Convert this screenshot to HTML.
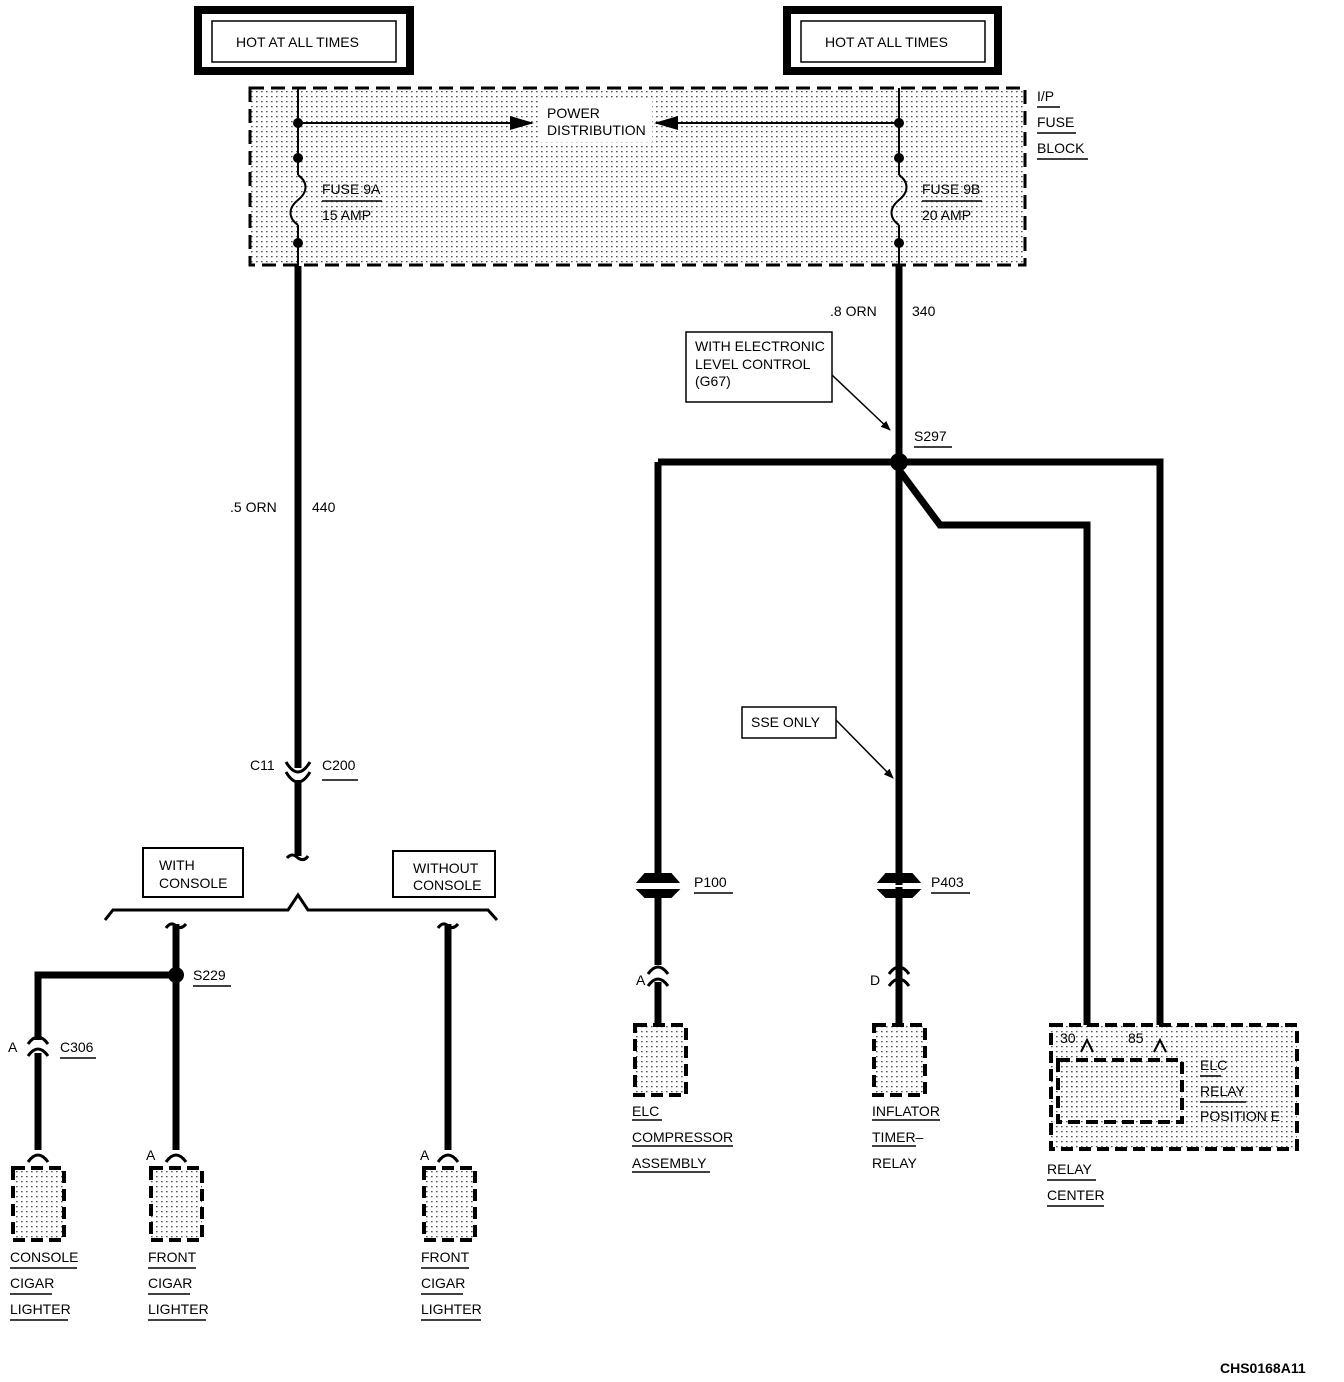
<!DOCTYPE html>
<html><head><style>body{margin:0;background:#fff}svg{display:block}text{font-family:"Liberation Sans",sans-serif;font-size:14px;fill:#000}</style></head>
<body>
<svg width="1344" height="1382" viewBox="0 0 1344 1382" xmlns="http://www.w3.org/2000/svg">
<defs>
<pattern id="d" width="5" height="5" patternUnits="userSpaceOnUse"><rect x="1" y="1" width="1.6" height="1.3" fill="#555"/></pattern>
<marker id="ar" markerWidth="10" markerHeight="10" refX="9" refY="5" orient="auto" markerUnits="userSpaceOnUse"><path d="M0,1 L10,5 L0,9 Z"/></marker>
<marker id="ab" markerWidth="24" markerHeight="16" refX="22" refY="8" orient="auto" markerUnits="userSpaceOnUse"><path d="M0,1 L24,8 L0,15 Z"/></marker>
</defs>
<g fill="none" stroke="#000">
<rect x="198" y="10" width="212" height="61" stroke-width="8"/>
<rect x="212" y="21" width="184" height="41" stroke-width="1.5"/>
<rect x="787" y="10" width="211" height="61" stroke-width="8"/>
<rect x="801" y="21" width="184" height="41" stroke-width="1.5"/>
<rect x="250" y="88" width="775" height="177" fill="url(#d)" stroke-width="3" stroke-dasharray="14,7"/>
<rect x="540" y="100" width="112" height="42" fill="#fff" stroke="none"/>
<path d="M298 88V175 M298 225V266 M899 88V175 M899 225V266" stroke-width="2"/>
<path d="M298 175 C308 182,308 192,298 200 C288 208,288 218,298 225 M899 175 C909 182,909 192,899 200 C889 208,889 218,899 225" stroke-width="2"/>
<path d="M298 123H532" stroke-width="2" marker-end="url(#ab)"/>
<path d="M899 123H656" stroke-width="2" marker-end="url(#ab)"/>
<path d="M298 266V768 M298 780V856" stroke-width="7"/>
<path d="M286 762 Q298 782 310 762 M286 772 Q298 792 310 772" stroke-width="3"/>
<path d="M287 858 Q292 852 298 858 Q304 862 308 856" stroke-width="3"/>
<path d="M105 920 L113 910 H288 L298 895 L308 910 H488 L497 920" stroke-width="3"/>
<rect x="143" y="848" width="100" height="49" stroke-width="2"/>
<rect x="393" y="851" width="102" height="46" stroke-width="2"/>
<path d="M176 924V1150 M176 975H38V1040 M38 1053V1150 M448 924V1150" stroke-width="7"/>
<path d="M166 928 Q171 921 176 926 Q181 930 186 924 M438 928 Q443 921 448 926 Q453 930 458 924" stroke-width="3"/>
<path d="M28 1044 Q38 1030 48 1044 M28 1056 Q38 1042 48 1056" stroke-width="3"/>
<path d="M166 1162 Q176 1148 186 1162 M438 1162 Q448 1148 458 1162 M28 1162 Q38 1148 48 1162" stroke-width="3"/>
<g stroke-width="4" stroke-dasharray="12,6" fill="url(#d)">
<rect x="13" y="1168" width="51" height="72"/>
<rect x="151" y="1168" width="51" height="72"/>
<rect x="424" y="1168" width="51" height="72"/>
<rect x="635" y="1025" width="51" height="70"/>
<rect x="874" y="1025" width="51" height="70"/>
<rect x="1051" y="1025" width="246" height="124"/>
<rect x="1058" y="1060" width="124" height="62"/>
</g>
<path d="M899 266V1025 M658 462H1160V1025 M658 462V875 M658 890V965 M658 982V1025 M899 470 L940 525 H1087 V1025" stroke-width="7"/>
<path d="M638 882 L645 874 H671 L678 882 Z M638 890 L645 897 H671 L678 890 Z" stroke-width="2" fill="#000"/>
<path d="M640 886 H676" stroke-width="2" stroke="#fff"/>
<path d="M879 882 L886 874 H912 L919 882 Z M879 890 L886 897 H912 L919 890 Z" stroke-width="2" fill="#000"/>
<path d="M881 886 H917" stroke-width="2" stroke="#fff"/>
<path d="M648 974 Q658 960 668 974 M648 986 Q658 972 668 986 M889 974 Q899 960 909 974 M889 986 Q899 972 909 986" stroke-width="3"/>
<path d="M1081 1052 L1087 1040 L1093 1052 M1154 1052 L1160 1040 L1166 1052" stroke-width="2"/>
<rect x="686" y="332" width="146" height="70" stroke-width="1.5" fill="#fff"/>
<rect x="742" y="707" width="94" height="31" stroke-width="1.5" fill="#fff"/>
<path d="M832 375 L890 430" stroke-width="1.5" marker-end="url(#ar)"/>
<path d="M836 720 L893 778" stroke-width="1.5" marker-end="url(#ar)"/>
<g stroke-width="1.5">
<path d="M1037 107H1060 M1037 133H1076 M1037 159H1088 M322 201H382 M922 201H982 M914 447H952 M322 780H358 M193 986H231 M60 1058H96 M694 893H733 M931 893H970 M10 1268H77 M10 1294H52 M10 1320H68 M148 1268H196 M148 1294H190 M148 1320H206 M421 1268H469 M421 1294H463 M421 1320H481 M632 1120H662 M632 1146H733 M632 1172H710 M872 1120H940 M872 1146H916 M1200 1076H1221 M1200 1102H1246 M1047 1180H1096 M1047 1206H1104"/>
</g>
</g>
<g>
<circle cx="298" cy="123" r="5"/><circle cx="298" cy="158" r="5"/><circle cx="298" cy="243" r="5"/>
<circle cx="899" cy="123" r="5"/><circle cx="899" cy="158" r="5"/><circle cx="899" cy="243" r="5"/>
<circle cx="899" cy="462" r="9"/><circle cx="176" cy="975" r="8"/>
</g>
<text x="236" y="47">HOT AT ALL TIMES</text>
<text x="825" y="47">HOT AT ALL TIMES</text>
<text x="547" y="118">POWER</text>
<text x="547" y="135">DISTRIBUTION</text>
<text x="1037" y="101">I/P</text><text x="1037" y="127">FUSE</text><text x="1037" y="153">BLOCK</text>
<text x="322" y="194">FUSE 9A</text><text x="322" y="220">15 AMP</text>
<text x="922" y="194">FUSE 9B</text><text x="922" y="220">20 AMP</text>
<text x="230" y="512">.5 ORN</text><text x="312" y="512">440</text>
<text x="830" y="316">.8 ORN</text><text x="912" y="316">340</text>
<text x="695" y="351">WITH ELECTRONIC</text><text x="695" y="369">LEVEL CONTROL</text><text x="695" y="386">(G67)</text>
<text x="914" y="441">S297</text>
<text x="751" y="727">SSE ONLY</text>
<text x="250" y="770">C11</text><text x="322" y="770">C200</text>
<text x="159" y="870" font-size="13">WITH</text><text x="159" y="888">CONSOLE</text>
<text x="413" y="873">WITHOUT</text><text x="413" y="890">CONSOLE</text>
<text x="193" y="980">S229</text>
<text x="8" y="1052">A</text><text x="60" y="1052">C306</text>
<text x="146" y="1160">A</text><text x="420" y="1160">A</text>
<text x="694" y="887">P100</text><text x="931" y="887">P403</text>
<text x="636" y="985">A</text><text x="870" y="985">D</text>
<text x="1060" y="1043">30</text><text x="1128" y="1043">85</text>
<text x="1200" y="1070">ELC</text><text x="1200" y="1096">RELAY</text><text x="1200" y="1121">POSITION E</text>
<text x="10" y="1262">CONSOLE</text><text x="10" y="1288">CIGAR</text><text x="10" y="1314">LIGHTER</text>
<text x="148" y="1262">FRONT</text><text x="148" y="1288">CIGAR</text><text x="148" y="1314">LIGHTER</text>
<text x="421" y="1262">FRONT</text><text x="421" y="1288">CIGAR</text><text x="421" y="1314">LIGHTER</text>
<text x="632" y="1116">ELC</text><text x="632" y="1142">COMPRESSOR</text><text x="632" y="1168">ASSEMBLY</text>
<text x="872" y="1116">INFLATOR</text><text x="872" y="1142">TIMER–</text><text x="872" y="1168">RELAY</text>
<text x="1047" y="1174">RELAY</text><text x="1047" y="1200">CENTER</text>
<text x="1220" y="1373" font-weight="bold">CHS0168A11</text>
</svg>
</body></html>
